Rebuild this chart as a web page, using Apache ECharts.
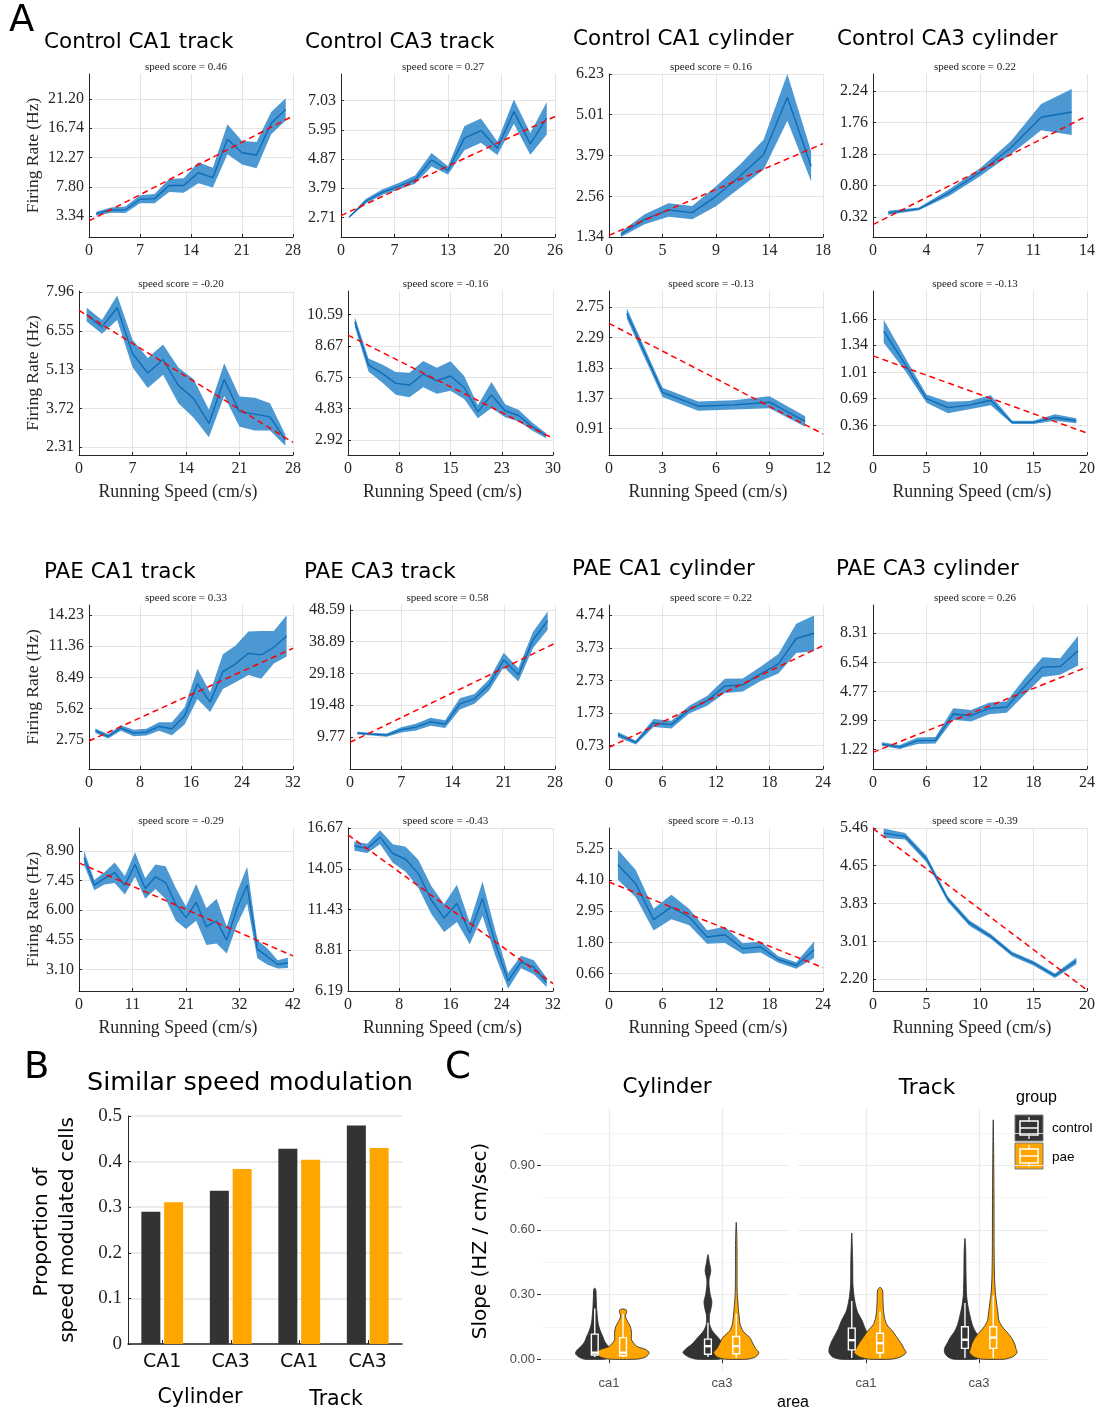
<!DOCTYPE html>
<html><head><meta charset="utf-8">
<script src="https://cdn.jsdelivr.net/npm/echarts@6/dist/echarts.min.js"></script>
<style>html,body{margin:0;padding:0;background:#fff}#c{width:1100px;height:1414px}</style>
</head><body><div id="c"></div>
<script>
// ---------------- Panel A data (x = running speed bin centre cm/s, mean firing rate, half-width of band, fit endpoints) ----------------
const ctlCa1TrackUpX = [1,3,5,7,9,11,13,15,17,19,21,23,25,27];
const ctlCa1TrackUpMean = [3.7,4.26,4.3,5.9,6.0,8.0,8.0,9.95,9.2,15.05,13.0,12.65,17.5,19.6];
const ctlCa1TrackUpErr = [0.3,0.4,0.5,0.6,0.7,1.0,1.1,1.6,1.5,2.3,1.8,2.0,1.7,1.7];
const ctlCa1TrackUpFit = [2.6,18.6];
const ctlCa1TrackUpTicks = [3.34,7.80,12.27,16.74,21.20];

const ctlCa3TrackUpX = [1,3,5,7,9,11,13,15,17,19,21,23,25];
const ctlCa3TrackUpMean = [2.73,3.31,3.64,3.86,4.11,4.84,4.45,5.64,5.92,5.27,6.62,5.43,6.38];
const ctlCa3TrackUpErr = [0.03,0.08,0.1,0.12,0.15,0.25,0.15,0.45,0.45,0.25,0.45,0.4,0.6];
const ctlCa3TrackUpFit = [2.78,6.44];
const ctlCa3TrackUpTicks = [2.71,3.79,4.87,5.95,7.03];

const ctlCa1CylUpX = [1,3,5,7,9,11,13,15,17];
const ctlCa1CylUpMean = [1.42,1.87,2.15,2.07,2.56,3.16,3.81,5.53,3.46];
const ctlCa1CylUpErr = [0.08,0.15,0.2,0.2,0.3,0.35,0.45,0.7,0.45];
const ctlCa1CylUpFit = [1.39,4.14];
const ctlCa1CylUpTicks = [1.34,2.56,3.79,5.01,6.23];

const ctlCa3CylUpX = [1,3,5,7,9,11,13];
const ctlCa3CylUpMean = [0.38,0.44,0.69,1.0,1.37,1.84,1.92];
const ctlCa3CylUpErr = [0.03,0.02,0.05,0.06,0.1,0.2,0.35];
const ctlCa3CylUpFit = [0.2,1.86];
const ctlCa3CylUpTicks = [0.32,0.80,1.28,1.76,2.24];

const ctlCa1TrackDownX = [1,3,5,7,9,11,13,15,17,19,21,23,25,27];
const ctlCa1TrackDownMean = [7.14,6.69,7.39,5.72,5.01,5.50,4.56,4.08,3.17,4.77,3.60,3.51,3.41,2.56];
const ctlCa1TrackDownErr = [0.25,0.25,0.45,0.5,0.55,0.55,0.65,0.7,0.5,0.6,0.55,0.6,0.5,0.2];
const ctlCa1TrackDownFit = [7.29,2.48];
const ctlCa1TrackDownTicks = [2.31,3.72,5.13,6.55,7.96];

const ctlCa3TrackDownX = [1,3,5,7,9,11,13,15,17,19,21,23,25,27,29];
const ctlCa3TrackDownMean = [10.14,7.5,6.99,6.38,6.28,6.95,6.54,6.83,6.13,4.65,5.67,4.71,4.4,3.73,3.18];
const ctlCa3TrackDownErr = [0.3,0.4,0.55,0.7,0.75,0.8,0.8,0.9,0.7,0.4,0.8,0.4,0.35,0.25,0.15];
const ctlCa3TrackDownFit = [9.33,3.02];
const ctlCa3TrackDownTicks = [2.92,4.83,6.75,8.67,10.59];

const ctlCa1CylDownX = [1,3,5,7,9,11];
const ctlCa1CylDownMean = [2.65,1.46,1.25,1.27,1.31,1.02];
const ctlCa1CylDownErr = [0.08,0.07,0.07,0.07,0.09,0.08];
const ctlCa1CylDownFit = [2.50,0.83];
const ctlCa1CylDownTicks = [0.91,1.37,1.83,2.29,2.75];

const ctlCa3CylDownX = [1,3,5,7,9,11,13,15,17,19];
const ctlCa3CylDownMean = [1.51,1.11,0.69,0.58,0.61,0.67,0.40,0.40,0.46,0.42];
const ctlCa3CylDownErr = [0.14,0.08,0.05,0.07,0.05,0.06,0.02,0.02,0.04,0.03];
const ctlCa3CylDownFit = [1.21,0.27];
const ctlCa3CylDownTicks = [0.36,0.69,1.01,1.34,1.66];

const paeCa1TrackUpX = [1,3,5,7,9,11,13,15,17,19,21,23,25,27,29,31];
const paeCa1TrackUpMean = [3.58,3.06,3.83,3.36,3.45,3.97,3.76,4.95,7.89,6.21,9.02,9.73,10.71,10.56,11.26,12.3];
const paeCa1TrackUpErr = [0.2,0.2,0.25,0.3,0.3,0.4,0.6,0.8,1.4,0.9,1.6,1.7,2.0,2.2,1.5,1.9];
const paeCa1TrackUpFit = [2.63,11.17];
const paeCa1TrackUpTicks = [2.75,5.62,8.49,11.36,14.23];

const paeCa3TrackUpX = [1,3,5,7,9,11,13,15,17,19,21,23,25,27];
const paeCa3TrackUpMean = [10.89,10.58,10.28,11.9,12.72,14.35,13.64,19.85,21.38,25.66,33.3,28.72,39.42,45.3];
const paeCa3TrackUpErr = [0.4,0.4,0.5,0.8,1.0,1.2,1.2,1.7,1.5,1.7,2.2,2.0,2.5,2.8];
const paeCa3TrackUpFit = [8.04,38.4];
const paeCa3TrackUpTicks = [9.77,19.48,29.18,38.89,48.59];

const paeCa1CylUpX = [1,3,5,7,9,11,13,15,17,19,21,23];
const paeCa1CylUpMean = [1.06,0.82,1.42,1.37,1.83,2.10,2.56,2.59,2.93,3.24,4.02,4.18];
const paeCa1CylUpErr = [0.08,0.06,0.12,0.12,0.12,0.15,0.22,0.2,0.22,0.3,0.45,0.55];
const paeCa1CylUpFit = [0.67,3.80];
const paeCa1CylUpTicks = [0.73,1.73,2.73,3.73,4.74];

const paeCa3CylUpX = [1,3,5,7,9,11,13,15,17,19,21,23];
const paeCa3CylUpMean = [1.56,1.38,1.77,1.79,3.39,3.29,3.73,3.82,5.07,6.25,6.29,7.24];
const paeCa3CylUpErr = [0.12,0.12,0.2,0.2,0.35,0.35,0.35,0.35,0.5,0.6,0.5,0.9];
const paeCa3CylUpFit = [1.06,6.25];
const paeCa3CylUpTicks = [1.22,2.99,4.77,6.54,8.31];

const paeCa1TrackDownX = [1,3,5,7,9,11,13,15,17,19,21,23,25,27,29,31,33,35,37,39,41];
const paeCa1TrackDownMean = [8.56,7.22,7.55,7.83,7.22,8.23,7.06,7.63,7.35,6.28,5.63,6.38,5.19,5.46,4.53,6.08,7.22,4.09,3.72,3.34,3.42];
const paeCa1TrackDownErr = [0.35,0.25,0.3,0.5,0.45,0.6,0.5,0.6,0.8,0.8,0.55,0.9,0.9,1.1,0.65,0.8,0.9,0.45,0.4,0.2,0.25];
const paeCa1TrackDownFit = [8.31,3.76];
const paeCa1TrackDownTicks = [3.10,4.55,6.00,7.45,8.90];

const paeCa3TrackDownX = [1,3,5,7,9,11,13,15,17,19,21,23,25,27,29,31];
const paeCa3TrackDownMean = [15.51,15.36,16.08,15.03,14.66,13.72,12.04,10.88,11.82,9.90,12.13,9.25,6.85,8.05,7.72,6.74];
const paeCa3TrackDownErr = [0.3,0.3,0.45,0.6,0.8,0.9,0.9,0.9,1.2,0.7,1.1,0.8,0.5,0.4,0.45,0.3];
const paeCa3TrackDownFit = [16.23,6.67];
const paeCa3TrackDownTicks = [6.19,8.81,11.43,14.05,16.67];

const paeCa1CylDownX = [1,3,5,7,9,11,13,15,17,19,21,23];
const paeCa1CylDownMean = [4.66,3.96,2.64,3.10,2.73,2.00,2.08,1.57,1.63,1.17,0.95,1.53];
const paeCa1CylDownErr = [0.55,0.5,0.4,0.45,0.3,0.25,0.3,0.2,0.2,0.12,0.12,0.3];
const paeCa1CylDownFit = [4.02,0.87];
const paeCa1CylDownTicks = [0.66,1.80,2.95,4.10,5.25];

const paeCa3CylDownX = [1,3,5,7,9,11,13,15,17,19];
const paeCa3CylDownMean = [5.35,5.28,4.79,3.92,3.41,3.12,2.74,2.54,2.27,2.59];
const paeCa3CylDownErr = [0.1,0.07,0.07,0.06,0.06,0.05,0.05,0.05,0.05,0.07];
const paeCa3CylDownFit = [5.45,1.96];
const paeCa3CylDownTicks = [2.20,3.01,3.83,4.65,5.46];

const panelTitles = ['Control CA1 track','Control CA3 track','Control CA1 cylinder','Control CA3 cylinder',
                     'PAE CA1 track','PAE CA3 track','PAE CA1 cylinder','PAE CA3 cylinder'];
const speedScores = ['0.46','0.27','0.16','0.22','-0.20','-0.16','-0.13','-0.13',
                     '0.33','0.58','0.22','0.26','-0.29','-0.43','-0.13','-0.39'];

// ---------------- Panel B data ----------------
const barCategories = ['CA1','CA3','CA1','CA3'];
const barControl = [0.290,0.336,0.428,0.479];
const barPae = [0.311,0.384,0.404,0.430];

// ---------------- Panel C data: violin profiles [slope, half width], box [lo,q1,med,q3,hi] ----------------
const areaLabels = ['ca1','ca3'];
const cylCa1Ctl = [[0,0.09],[0.01,0.14],[0.025,0.17],[0.04,0.16],[0.06,0.12],[0.08,0.09],[0.10,0.075],[0.13,0.05],[0.16,0.032],[0.19,0.024],[0.24,0.016],[0.29,0.012],[0.32,0.01],[0.33,0]];
const cylCa1Pae = [[0,0.12],[0.01,0.2],[0.03,0.23],[0.045,0.2],[0.06,0.12],[0.09,0.075],[0.12,0.075],[0.15,0.065],[0.18,0.035],[0.2,0.02],[0.215,0.03],[0.228,0.03],[0.233,0]];
const cylCa3Ctl = [[0,0.1],[0.01,0.17],[0.03,0.22],[0.05,0.19],[0.07,0.14],[0.1,0.09],[0.13,0.04],[0.16,0.015],[0.2,0.012],[0.23,0.025],[0.265,0.035],[0.3,0.02],[0.34,0.01],[0.37,0.01],[0.41,0.025],[0.45,0.012],[0.485,0]];
const cylCa3Pae = [[0,0.1],[0.01,0.17],[0.03,0.2],[0.05,0.17],[0.08,0.14],[0.1,0.12],[0.13,0.06],[0.16,0.035],[0.2,0.025],[0.24,0.018],[0.28,0.012],[0.32,0.008],[0.45,0.007],[0.55,0.006],[0.635,0]];
const trkCa1Ctl = [[0,0.1],[0.01,0.17],[0.03,0.2],[0.05,0.2],[0.08,0.18],[0.1,0.16],[0.14,0.12],[0.18,0.09],[0.22,0.05],[0.26,0.03],[0.3,0.018],[0.35,0.01],[0.45,0.008],[0.585,0]];
const trkCa1Pae = [[0,0.1],[0.01,0.18],[0.03,0.23],[0.05,0.21],[0.07,0.19],[0.1,0.15],[0.13,0.11],[0.16,0.06],[0.19,0.04],[0.23,0.03],[0.28,0.025],[0.32,0.022],[0.333,0]];
const trkCa3Ctl = [[0,0.1],[0.01,0.15],[0.03,0.18],[0.05,0.18],[0.08,0.15],[0.1,0.13],[0.13,0.09],[0.16,0.065],[0.2,0.045],[0.25,0.025],[0.3,0.014],[0.4,0.009],[0.5,0.007],[0.56,0]];
const trkCa3Pae = [[0,0.1],[0.01,0.17],[0.03,0.21],[0.05,0.2],[0.07,0.19],[0.1,0.16],[0.12,0.13],[0.15,0.08],[0.18,0.05],[0.22,0.04],[0.26,0.03],[0.3,0.02],[0.37,0.012],[0.5,0.008],[0.8,0.006],[1.11,0]];
const cylCa1CtlBox = [0.01,0.019,0.03,0.116,0.235];
const cylCa1PaeBox = [0.01,0.016,0.03,0.10,0.21];
const cylCa3CtlBox = [0.01,0.023,0.06,0.093,0.17];
const cylCa3PaeBox = [0.005,0.025,0.06,0.105,0.21];
const trkCa1CtlBox = [0.005,0.043,0.088,0.144,0.27];
const trkCa1PaeBox = [0.005,0.03,0.074,0.12,0.22];
const trkCa3CtlBox = [0.005,0.05,0.09,0.15,0.26];
const trkCa3PaeBox = [0.005,0.05,0.1,0.15,0.295];

// ---------------- styling ----------------
const SERIF = '"Liberation Serif","Times New Roman",serif';
const SANS = '"DejaVu Sans",Verdana,sans-serif';
const ARIAL = '"Liberation Sans",Arial,sans-serif';
const BAND = '#4b98d3', LINE = '#0f6db6', FIT = '#ff0000';
const AXC = '#262626', GRIDC = '#e4e4e4';
const CTL = '#333333', PAE = '#FFA500';

const plots = [
  {x:ctlCa1TrackUpX, m:ctlCa1TrackUpMean, e:ctlCa1TrackUpErr, fit:ctlCa1TrackUpFit, ticks:ctlCa1TrackUpTicks, xMax:28, yMin:0.15, yMax:25.0, box:[89,74,293,237]},
  {x:ctlCa3TrackUpX, m:ctlCa3TrackUpMean, e:ctlCa3TrackUpErr, fit:ctlCa3TrackUpFit, ticks:ctlCa3TrackUpTicks, xMax:26, yMin:1.99, yMax:8.01, box:[341,74,555,237]},
  {x:ctlCa1CylUpX, m:ctlCa1CylUpMean, e:ctlCa1CylUpErr, fit:ctlCa1CylUpFit, ticks:ctlCa1CylUpTicks, xMax:18, yMin:1.34, yMax:6.23, box:[609,74,823,237]},
  {x:ctlCa3CylUpX, m:ctlCa3CylUpMean, e:ctlCa3CylUpErr, fit:ctlCa3CylUpFit, ticks:ctlCa3CylUpTicks, xMax:14, yMin:0.011, yMax:2.50, box:[873,74,1087,237]},
  {x:ctlCa1TrackDownX, m:ctlCa1TrackDownMean, e:ctlCa1TrackDownErr, fit:ctlCa1TrackDownFit, ticks:ctlCa1TrackDownTicks, xMax:28, yMin:2.02, yMax:8.0, box:[79,291,293,455]},
  {x:ctlCa3TrackDownX, m:ctlCa3TrackDownMean, e:ctlCa3TrackDownErr, fit:ctlCa3TrackDownFit, ticks:ctlCa3TrackDownTicks, xMax:30, yMin:2.0, yMax:12.03, box:[348,291,553,455]},
  {x:ctlCa1CylDownX, m:ctlCa1CylDownMean, e:ctlCa1CylDownErr, fit:ctlCa1CylDownFit, ticks:ctlCa1CylDownTicks, xMax:12, yMin:0.513, yMax:2.99, box:[609,291,823,455]},
  {x:ctlCa3CylDownX, m:ctlCa3CylDownMean, e:ctlCa3CylDownErr, fit:ctlCa3CylDownFit, ticks:ctlCa3CylDownTicks, xMax:20, yMin:0.003, yMax:2.0, box:[873,291,1087,455]},
  {x:paeCa1TrackUpX, m:paeCa1TrackUpMean, e:paeCa1TrackUpErr, fit:paeCa1TrackUpFit, ticks:paeCa1TrackUpTicks, xMax:32, yMin:0.056, yMax:15.15, box:[89,605,293,769]},
  {x:paeCa3TrackUpX, m:paeCa3TrackUpMean, e:paeCa3TrackUpErr, fit:paeCa3TrackUpFit, ticks:paeCa3TrackUpTicks, xMax:28, yMin:-0.1, yMax:50.1, box:[350,605,555,769]},
  {x:paeCa1CylUpX, m:paeCa1CylUpMean, e:paeCa1CylUpErr, fit:paeCa1CylUpFit, ticks:paeCa1CylUpTicks, xMax:24, yMin:0.004, yMax:5.05, box:[609,605,823,769]},
  {x:paeCa3CylUpX, m:paeCa3CylUpMean, e:paeCa3CylUpErr, fit:paeCa3CylUpFit, ticks:paeCa3CylUpTicks, xMax:24, yMin:0.045, yMax:10.03, box:[873,605,1087,769]},
  {x:paeCa1TrackDownX, m:paeCa1TrackDownMean, e:paeCa1TrackDownErr, fit:paeCa1TrackDownFit, ticks:paeCa1TrackDownTicks, xMax:42, yMin:2.04, yMax:10.02, box:[79,828,293,991]},
  {x:paeCa3TrackDownX, m:paeCa3TrackDownMean, e:paeCa3TrackDownErr, fit:paeCa3TrackDownFit, ticks:paeCa3TrackDownTicks, xMax:32, yMin:6.19, yMax:16.67, box:[348,828,553,991]},
  {x:paeCa1CylDownX, m:paeCa1CylDownMean, e:paeCa1CylDownErr, fit:paeCa1CylDownFit, ticks:paeCa1CylDownTicks, xMax:24, yMin:0.011, yMax:6.01, box:[609,828,823,991]},
  {x:paeCa3CylDownX, m:paeCa3CylDownMean, e:paeCa3CylDownErr, fit:paeCa3CylDownFit, ticks:paeCa3CylDownTicks, xMax:20, yMin:1.94, yMax:5.46, box:[873,828,1087,991]}
];

const grid = [], xAxis = [], yAxis = [], series = [], graphic = [];
function txt(text, x, y, font, opts) {
  opts = opts || {};
  graphic.push({type:'text', x:x, y:y, rotation:opts.rot || 0, silent:true,
    style:{text:text, font:font, fill:opts.fill || '#000',
      align:opts.align || 'center', verticalAlign:'middle',
      textAlign:opts.align || 'center', textVerticalAlign:'middle'}});
}

plots.forEach((p, i) => {
  const [l, t, r, b] = p.box;
  grid.push({left:l, top:t, width:r-l, height:b-t, outerBoundsMode:'none', containLabel:false});
  xAxis.push({type:'value', gridIndex:i, min:0, max:p.xMax, interval:p.xMax/4,
    axisLine:{show:true, onZero:false, lineStyle:{color:AXC, width:1}},
    axisTick:{show:true, inside:true, length:3, lineStyle:{color:AXC}},
    axisLabel:{fontFamily:SERIF, fontSize:16, color:AXC, margin:6, formatter:v => String(Math.round(v))},
    splitLine:{show:true, lineStyle:{color:GRIDC, width:1}}});
  yAxis.push({type:'value', gridIndex:i, min:p.yMin, max:p.yMax,
    axisLine:{show:true, onZero:false, lineStyle:{color:AXC, width:1}},
    axisTick:{show:true, inside:true, length:3, lineStyle:{color:AXC}, customValues:p.ticks},
    axisLabel:{fontFamily:SERIF, fontSize:16, color:AXC, margin:5, customValues:p.ticks, formatter:v => Number(v).toFixed(2)},
    splitLine:{show:true, lineStyle:{color:GRIDC, width:1}}});
  series.push({type:'custom', xAxisIndex:i, yAxisIndex:i, silent:true, z:1,
    data:p.x.map((x, k) => [x, p.m[k]]),
    renderItem:(params, api) => {
      if (params.dataIndex !== 0) return null;
      const up = [], lo = [];
      p.x.forEach((x, k) => {
        up.push(api.coord([x, p.m[k] + p.e[k]]));
        lo.push(api.coord([x, p.m[k] - p.e[k]]));
      });
      return {type:'polygon', shape:{points:up.concat(lo.reverse())}, style:{fill:BAND, stroke:null}};
    }});
  series.push({type:'line', xAxisIndex:i, yAxisIndex:i, silent:true, z:3, symbol:'none',
    data:p.x.map((x, k) => [x, p.m[k]]), lineStyle:{color:LINE, width:1.4}});
  series.push({type:'line', xAxisIndex:i, yAxisIndex:i, silent:true, z:4, symbol:'none',
    data:[[0, p.fit[0]], [p.xMax, p.fit[1]]], lineStyle:{color:FIT, width:1.5, type:[6,4]}});
  const cx = (l + r) / 2;
  txt('speed score = ' + speedScores[i], cx - 5, t - 7, '11px ' + SERIF, {fill:'#222'});
  const row = Math.floor(i / 4), col = i % 4;
  if (col === 0) txt('Firing Rate (Hz)', 33, (t + b) / 2, '17.5px ' + SERIF, {rot:Math.PI/2, fill:AXC});
  if (row === 1 || row === 3) txt('Running Speed (cm/s)', cx - 8, b + 37, '17.8px ' + SERIF, {fill:AXC});
});

// Panel A titles
txt('A', 9, 21, '37px ' + SANS, {align:'left'});
[[44,42],[305,42],[573,39],[837,39],[44,572],[304,572],[572,569],[836,569]].forEach((pos, k) => {
  txt(panelTitles[k], pos[0], pos[1], '21.5px ' + SANS, {align:'left'});
});

// ---------------- Panel B ----------------
const gB = grid.length;
grid.push({left:128, top:1116, width:274, height:228, outerBoundsMode:'none', containLabel:false});
xAxis.push({type:'category', gridIndex:gB, data:barCategories.map((c, k) => k + ':' + c),
  axisLine:{show:true, lineStyle:{color:AXC, width:1.5}},
  axisTick:{show:true, inside:true, alignWithLabel:true, length:4, lineStyle:{color:AXC}},
  axisLabel:{fontFamily:SANS, fontSize:19, color:'#111', margin:9, formatter:v => v.split(':')[1]},
  splitLine:{show:false}});
yAxis.push({type:'value', gridIndex:gB, min:0, max:0.5, interval:0.1,
  axisLine:{show:true, lineStyle:{color:AXC, width:1}},
  axisTick:{show:true, inside:true, length:3, lineStyle:{color:AXC}},
  axisLabel:{fontFamily:SERIF, fontSize:19, color:AXC, margin:6, formatter:v => v === 0 ? '0' : Number(v).toFixed(1)},
  splitLine:{show:true, lineStyle:{color:GRIDC, width:1.5}}});
series.push({type:'bar', name:'control', xAxisIndex:gB, yAxisIndex:gB, data:barControl, barWidth:19, barGap:'20%', itemStyle:{color:CTL}, silent:true});
series.push({type:'bar', name:'pae', xAxisIndex:gB, yAxisIndex:gB, data:barPae, barWidth:19, itemStyle:{color:PAE}, silent:true});
txt('B', 24, 1068, '37px ' + SANS, {align:'left'});
txt('Similar speed modulation', 87, 1083, '25.5px ' + SANS, {align:'left'});
txt('Proportion of', 42, 1232, '20px ' + SANS, {rot:Math.PI/2});
txt('speed modulated cells', 68, 1230, '20px ' + SANS, {rot:Math.PI/2});
txt('Cylinder', 200, 1398, '20.5px ' + SANS);
txt('Track', 336, 1400, '20.5px ' + SANS);

// ---------------- Panel C ----------------
const DODGE = 0.125;
const violins = [
  {facet:0, area:1, group:0, prof:cylCa1Ctl, box:cylCa1CtlBox},
  {facet:0, area:2, group:0, prof:cylCa3Ctl, box:cylCa3CtlBox},
  {facet:0, area:1, group:1, prof:cylCa1Pae, box:cylCa1PaeBox},
  {facet:0, area:2, group:1, prof:cylCa3Pae, box:cylCa3PaeBox},
  {facet:1, area:1, group:0, prof:trkCa1Ctl, box:trkCa1CtlBox},
  {facet:1, area:2, group:0, prof:trkCa3Ctl, box:trkCa3CtlBox},
  {facet:1, area:1, group:1, prof:trkCa1Pae, box:trkCa1PaeBox},
  {facet:1, area:2, group:1, prof:trkCa3Pae, box:trkCa3PaeBox}
];
const groupColors = [CTL, PAE];
const facetLeft = [541, 798];
const minorY = [0.15, 0.45, 0.75, 1.05];
const majorY = [0, 0.3, 0.6, 0.9];
facetLeft.forEach((fl, f) => {
  const gi = grid.length;
  grid.push({left:fl, top:1108, width:249, height:263, outerBoundsMode:'none', containLabel:false});
  xAxis.push({type:'value', gridIndex:gi, min:0.4, max:2.6,
    axisLine:{show:false},
    axisTick:{show:true, inside:false, length:4, customValues:[1,2], lineStyle:{color:'#333'}},
    axisLabel:{fontFamily:ARIAL, fontSize:13, color:'#4d4d4d', margin:6, customValues:[1,2], formatter:v => areaLabels[Math.round(v) - 1]},
    splitLine:{show:true, lineStyle:{color:'#ebebeb', width:1.2}}});
  const yi = yAxis.length;
  yAxis.push({type:'value', gridIndex:gi, min:-0.055, max:1.165,
    axisLine:{show:false},
    axisTick:{show:f === 0, inside:false, length:4, customValues:majorY, lineStyle:{color:'#333'}},
    axisLabel:{show:f === 0, fontFamily:ARIAL, fontSize:13, color:'#4d4d4d', margin:6, customValues:majorY, formatter:v => Number(v).toFixed(2)},
    splitLine:{show:true, lineStyle:{color:'#ebebeb', width:1.2}}});
  yAxis.push({type:'value', gridIndex:gi, min:-0.055, max:1.165, position:'left',
    axisLine:{show:false}, axisTick:{show:false, customValues:minorY}, axisLabel:{show:false, customValues:minorY},
    splitLine:{show:true, lineStyle:{color:'#f2f2f2', width:0.8}}});
  const items = [];
  violins.forEach((v, k) => { if (v.facet === f) items.push([v.area, v.box[2], k]); });
  series.push({type:'custom', xAxisIndex:gi, yAxisIndex:yi, silent:true, z:2, data:items,
    encode:{x:0, y:1},
    renderItem:(params, api) => {
      const v = violins[api.value(2)];
      const cx = v.area + (v.group === 0 ? -DODGE : DODGE);
      const right = v.prof.map(([y, w]) => api.coord([cx + w, y]));
      const left = v.prof.slice(0, -1).reverse().map(([y, w]) => api.coord([cx - w, y]));
      return {type:'polygon', shape:{points:right.concat(left), smooth:0.25},
        style:{fill:groupColors[v.group], stroke:'#333333', lineWidth:0.9}};
    }});
  series.push({type:'custom', xAxisIndex:gi, yAxisIndex:yi, silent:true, z:3, data:items,
    encode:{x:0, y:1},
    renderItem:(params, api) => {
      const v = violins[api.value(2)];
      const cx = v.area + (v.group === 0 ? -DODGE : DODGE);
      const [lo, q1, med, q3, hi] = v.box;
      const bw = 0.03;
      const tl = api.coord([cx - bw, q3]), br = api.coord([cx + bw, q1]);
      const top = api.coord([cx, q3]), whiskTop = api.coord([cx, hi]);
      const bot = api.coord([cx, q1]), whiskBot = api.coord([cx, lo]);
      const mL = api.coord([cx - bw, med]), mR = api.coord([cx + bw, med]);
      const ws = {stroke:'#ffffff', lineWidth:1.4};
      return {type:'group', children:[
        {type:'line', shape:{x1:top[0], y1:top[1], x2:whiskTop[0], y2:whiskTop[1]}, style:ws},
        {type:'line', shape:{x1:bot[0], y1:bot[1], x2:whiskBot[0], y2:whiskBot[1]}, style:ws},
        {type:'rect', shape:{x:tl[0], y:tl[1], width:br[0] - tl[0], height:br[1] - tl[1]}, style:{fill:groupColors[v.group], stroke:'#ffffff', lineWidth:1.4}},
        {type:'line', shape:{x1:mL[0], y1:mL[1], x2:mR[0], y2:mR[1]}, style:{stroke:'#ffffff', lineWidth:2.4}}
      ]};
    }});
});
txt('C', 445, 1068, '37px ' + SANS, {align:'left'});
txt('Cylinder', 667, 1087, '21.5px ' + SANS);
txt('Track', 927, 1088, '21.5px ' + SANS);
txt('Slope (HZ / cm/sec)', 481, 1241, '20px ' + SANS, {rot:Math.PI/2});
txt('area', 793, 1403, '16px ' + ARIAL);
txt('group', 1016, 1098, '16px ' + ARIAL, {align:'left'});
txt('control', 1052, 1128, '13.5px ' + ARIAL, {align:'left'});
txt('pae', 1052, 1157, '13.5px ' + ARIAL, {align:'left'});
// legend keys
[[1115, CTL], [1143, PAE]].forEach(([ky, col]) => {
  graphic.push({type:'rect', silent:true, shape:{x:1015, y:ky, width:28, height:26}, style:{fill:col, stroke:'#7a7a7a', lineWidth:1}});
  graphic.push({type:'line', silent:true, shape:{x1:1029, y1:ky + 2, x2:1029, y2:ky + 24}, style:{stroke:'#fff', lineWidth:1.2}});
  graphic.push({type:'rect', silent:true, shape:{x:1020, y:ky + 6, width:18, height:14}, style:{fill:col, stroke:'#fff', lineWidth:1.5}});
  graphic.push({type:'line', silent:true, shape:{x1:1020, y1:ky + 13, x2:1038, y2:ky + 13}, style:{stroke:'#fff', lineWidth:1.5}});
});

const chart = echarts.init(document.getElementById('c'), null, {renderer:'canvas'});
chart.setOption({animation:false, backgroundColor:'#fff', grid, xAxis, yAxis, series, graphic});
</script></body></html>
